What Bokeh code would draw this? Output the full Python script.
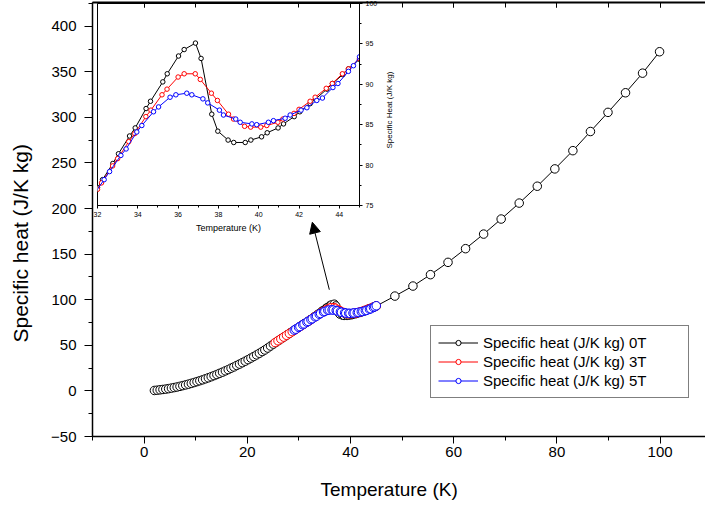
from bokeh.plotting import figure
from bokeh.models import (Range1d, LinearAxis, SingleIntervalTicker, Arrow, NormalHead,
                          Legend, LegendItem, Label, Title, CustomJSTickFormatter)
from bokeh.embed import file_html
from bokeh.resources import INLINE

FONT = "Liberation Sans"

# ---------------- data ----------------
# 0T, low temperature part
t0_low = [2.0, 2.55, 3.1, 3.65, 4.2, 4.75, 5.3, 5.85, 6.4, 6.95, 7.5, 8.05, 8.6, 9.15,
          9.7, 10.25, 10.8, 11.35, 11.9, 12.45, 13.0, 13.55, 14.1, 14.65, 15.2, 15.75,
          16.3, 16.85, 17.4, 17.95, 18.5, 19.05, 19.6, 20.15, 20.7, 21.25, 21.8, 22.35,
          22.9, 23.4]
c0_low = [0.5, 0.8, 1.2, 1.6, 2.0, 2.5, 3.1, 3.7, 4.3, 5.0, 5.8, 6.6, 7.4, 8.3,
          9.2, 10.2, 11.2, 12.2, 13.3, 14.4, 15.6, 16.8, 18.0, 19.3, 20.6, 22.0,
          23.4, 24.9, 26.3, 27.9, 29.4, 31.0, 32.6, 34.3, 36.0, 37.7, 39.5, 41.3,
          43.2, 44.9]
# 0T, between the low part and the transition
t0_mid = [23.95, 24.5, 25.05, 25.6, 26.15, 26.7, 27.25, 27.8, 28.35, 28.9, 29.45,
          30.0, 30.55, 31.1, 31.65]
c0_mid = [47.0, 49.2, 51.3, 53.4, 55.5, 57.6, 59.6, 61.7, 63.8, 65.9, 67.9,
          70.0, 72.0, 74.0, 75.8]
# 0T, transition region (inset range)
t0_peak = [32.0, 32.25, 32.76, 33.04, 33.59, 33.87, 34.41, 34.63, 35.24, 35.46, 36.02,
           36.30, 36.86, 37.14, 37.67, 37.97, 38.48, 38.76, 39.33, 39.61, 40.14, 40.42,
           40.96, 41.23, 41.76, 42.04, 42.55, 42.83, 43.38, 43.66, 44.17, 44.45, 45.0]
c0_peak = [77.2, 78.2, 80.2, 81.4, 83.6, 84.6, 87.0, 87.9, 90.3, 91.3, 93.5,
           94.3, 95.1, 93.2, 86.3, 84.2, 83.1, 82.8, 82.8, 83.1, 83.5, 84.0,
           84.6, 85.1, 86.0, 86.6, 87.6, 88.2, 89.4, 90.1, 91.2, 91.9, 93.1]
# 0T, high temperature part
t0_high = [48.6, 52.1, 55.5, 58.9, 62.3, 65.8, 69.2, 72.7, 76.2, 79.6, 83.1, 86.5,
           89.9, 93.3, 96.6, 99.9]
c0_high = [104.0, 115.0, 127.5, 141.0, 156.0, 172.0, 188.5, 206.0, 224.5, 243.5,
           263.5, 284.5, 305.5, 327.0, 348.5, 372.0]

# 3T
t3 = [25.4, 25.95, 26.5, 27.05, 27.6, 28.15, 28.7, 29.25, 29.8, 30.35, 30.9, 31.45,
      32.0, 32.2, 32.75, 33.0, 33.55, 33.85, 34.4, 34.65, 35.2, 35.45, 36.0, 36.3,
      36.85, 37.1, 37.65, 37.95, 38.5, 38.75, 39.3, 39.6, 40.1, 40.4, 40.95, 41.2,
      41.75, 42.0, 42.55, 42.8, 43.35, 43.65, 44.15, 44.45, 45.0]
c3 = [53.0, 55.0, 57.0, 59.0, 61.0, 63.0, 65.0, 67.0, 69.0, 71.0, 73.0, 75.0,
      77.0, 77.8, 79.9, 80.8, 82.9, 83.9, 86.0, 86.8, 88.7, 89.4, 90.9, 91.3,
      91.3, 90.6, 88.9, 88.0, 86.3, 85.7, 84.8, 84.7, 84.7, 84.9, 85.3, 85.7,
      86.4, 86.9, 87.9, 88.4, 89.5, 90.1, 91.3, 91.9, 93.2]

# 5T
t5 = [29.1, 29.4, 29.95, 30.2, 30.75, 31.0, 31.55, 31.8,
      32.33, 32.6, 33.16, 33.42, 33.95, 34.2, 34.78, 35.03, 35.6, 35.89, 36.43, 36.68,
      37.23, 37.47, 38.05, 38.25, 38.86, 39.08, 39.66, 39.9, 40.48, 40.73, 41.31, 41.56,
      42.1, 42.39, 42.88, 43.16, 43.68, 43.93, 44.45, 44.7, 45.0]
c5 = [66.7, 67.7, 69.7, 70.6, 72.6, 73.5, 75.4, 76.3,
      78.2, 79.2, 81.2, 82.0, 84.1, 84.9, 86.6, 87.2, 88.4, 88.7, 88.9, 88.7,
      88.2, 87.7, 86.8, 86.2, 85.7, 85.3, 85.1, 85.0, 85.3, 85.5, 85.8, 86.2,
      86.8, 87.1, 88.0, 88.3, 89.6, 90.1, 91.6, 92.3, 93.4]

t0 = t0_low + t0_mid + t0_peak + t0_high
c0 = c0_low + c0_mid + c0_peak + c0_high

labels = ["Specific heat (J/K kg) 0T", "Specific heat (J/K kg) 3T", "Specific heat (J/K kg) 5T"]
colors = ["black", "red", "blue"]
x_title = "Temperature (K)"
y_title = "Specific heat (J/K kg)"
inset_y_title = "Specific Heat (J/K kg)"

# arrow (data coords of main plot): tail -> head
arrow_tail = (35.9, 111.0)
arrow_head = (32.6, 185.0)

# ---------------- main figure ----------------
p = figure(width=705, height=507, output_backend="svg", toolbar_location=None,
           x_range=Range1d(-10, 108.8), y_range=Range1d(-50, 426),
           min_border_left=92, min_border_right=0, min_border_top=2, min_border_bottom=71)
p.outline_line_color = None
p.xgrid.visible = False
p.ygrid.visible = False
p.background_fill_color = "white"

xa = p.xaxis[0]
xa.ticker = SingleIntervalTicker(interval=20, num_minor_ticks=2)
ya = p.yaxis[0]
ya.ticker = SingleIntervalTicker(interval=50, num_minor_ticks=2)
for ax in (xa, ya):
    ax.axis_line_color = "black"
    ax.axis_line_width = 1.5
    ax.major_tick_line_color = "black"
    ax.minor_tick_line_color = "black"
    ax.major_tick_in = 0
    ax.minor_tick_in = 0
    ax.major_label_text_font = FONT
    ax.major_label_text_font_size = "15px"
    ax.major_label_text_color = "black"
xa.major_tick_out = 7
xa.minor_tick_out = 4
ya.major_tick_out = 8
ya.minor_tick_out = 4
xa.major_label_standoff = 3
ya.major_label_standoff = 8

top = LinearAxis(ticker=SingleIntervalTicker(interval=20, num_minor_ticks=2),
                 formatter=CustomJSTickFormatter(code="return ''"))
top.axis_line_width = 2
top.major_tick_out = 0
top.minor_tick_out = 0
top.major_tick_in = 5
top.minor_tick_in = 5
top.major_label_standoff = 0
p.add_layout(top, "above")


def spacer(size):
    """An invisible axis that only reserves room between an axis and its title."""
    s = LinearAxis(ticker=SingleIntervalTicker(interval=1000, num_minor_ticks=0),
                   formatter=CustomJSTickFormatter(code="return ''"))
    s.axis_line_color = None
    s.major_tick_line_color = None
    s.minor_tick_line_color = None
    s.major_tick_in = 0
    s.major_tick_out = size
    s.minor_tick_out = 0
    s.major_label_standoff = 0
    return s


p.add_layout(spacer(15), "left")
p.add_layout(spacer(15), "below")

# axis titles as side titles, offset to where the reference shows them
p.add_layout(Title(text=y_title, align="left", offset=94, standoff=4,
                   text_font=FONT, text_font_size="21px", text_font_style="normal",
                   text_color="black"), "left")
p.add_layout(Title(text=x_title, align="left", offset=228, standoff=4,
                   text_font=FONT, text_font_size="19px", text_font_style="normal",
                   text_color="black"), "below")

items = []
for t, c, col, lab in zip([t0, t3, t5], [c0, c3, c5], colors, labels):
    r_line = p.line(t, c, line_color=col, line_width=1)
    r_pts = p.scatter(t, c, marker="circle", size=8.5, fill_color="white",
                      line_color=col, line_width=1)
    items.append(LegendItem(label=lab, renderers=[r_line, r_pts]))

legend = Legend(items=items, location=(338, 38))
legend.label_text_font = FONT
legend.label_text_font_size = "15px"
legend.label_text_color = "black"
legend.border_line_color = "black"
legend.border_line_width = 1
legend.background_fill_color = "white"
legend.background_fill_alpha = 1
legend.padding = 7
legend.spacing = 0
legend.glyph_width = 40
legend.glyph_height = 13
legend.label_height = 19
legend.label_width = 198
legend.label_standoff = 5
legend.margin = 0
p.add_layout(legend, "center")

p.add_layout(Arrow(end=NormalHead(size=11, fill_color="black", line_color="black"),
                   x_start=arrow_tail[0], y_start=arrow_tail[1],
                   x_end=arrow_head[0], y_end=arrow_head[1],
                   line_color="black", line_width=1))

# inset's y title: drawn on the main canvas (inside its frame), right of the inset
p.add_layout(Label(x=47.5, y=308.0, text=inset_y_title, angle=90,
                   angle_units="deg", text_align="center", text_baseline="middle",
                   text_font=FONT, text_font_size="8px", text_color="black"))

# ---------------- inset figure ----------------
ins = figure(width=315, height=237, output_backend="svg", toolbar_location=None,
             x_range=Range1d(32, 45), y_range=Range1d(75, 100), y_axis_location="right",
             min_border_left=5, min_border_right=48, min_border_top=3, min_border_bottom=32)
ins.xgrid.visible = False
ins.ygrid.visible = False
ins.background_fill_color = None
ins.border_fill_color = None
ins.outline_line_color = "black"
ins.outline_line_width = 1

ixa = ins.xaxis[0]
iya = ins.yaxis[0]
ixa.ticker = SingleIntervalTicker(interval=2, num_minor_ticks=2)
iya.ticker = SingleIntervalTicker(interval=5, num_minor_ticks=2)
for ax in (ixa, iya):
    ax.axis_line_color = "black"
    ax.major_tick_in = 0
    ax.minor_tick_in = 0
    ax.major_tick_out = 3
    ax.minor_tick_out = 2
    ax.major_label_text_font = FONT
    ax.major_label_text_font_size = "7px"
    ax.major_label_text_color = "black"
    ax.major_label_standoff = 3
    ax.axis_label_text_font = FONT
    ax.axis_label_text_font_size = "9px"
    ax.axis_label_text_font_style = "normal"
    ax.axis_label_text_color = "black"
ixa.axis_label = x_title
ixa.axis_label_standoff = 3

for t, c, col in zip([t0, t3, t5], [c0, c3, c5], colors):
    ins.line(t, c, line_color=col, line_width=1)
    ins.scatter(t, c, marker="circle", size=4.5, fill_color="white",
                line_color=col, line_width=1)

ins.styles = {"position": "absolute", "left": "92px", "top": "0px", "z-index": "10"}

open("out.html", "w").write(file_html([p, ins], INLINE))
